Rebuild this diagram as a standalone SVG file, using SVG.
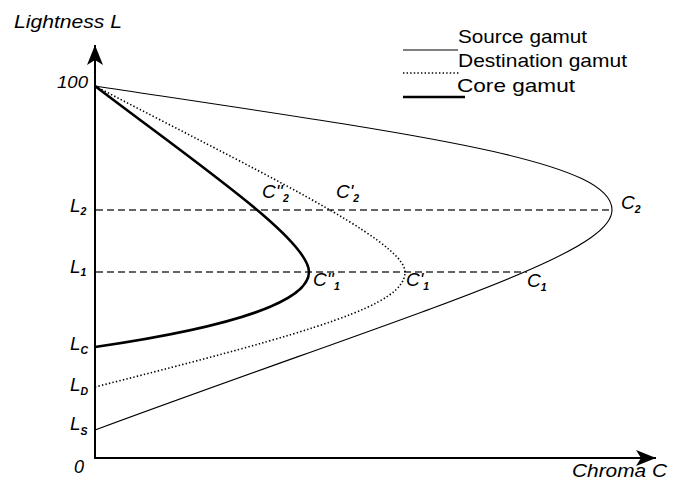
<svg xmlns="http://www.w3.org/2000/svg" width="679" height="482" viewBox="0 0 679 482">
<style>
text{font-family:"Liberation Sans",Arial,sans-serif;fill:#000}
.it{font-style:italic}
.lbl{font-size:19px;font-style:italic}
.sub{font-size:10.5px;font-weight:bold;font-style:italic}
.ax{stroke:#000;stroke-width:2;fill:none}
.src{stroke:#000;stroke-width:1.1;fill:none}
.dst{stroke:#000;stroke-width:1.6;fill:none;stroke-dasharray:1.4 2.2}
.core{stroke:#000;stroke-width:2.6;fill:none}
.dash{stroke:#333;stroke-width:1.3;fill:none;stroke-dasharray:7 4}
</style>
<defs>
<marker id="arr" viewBox="0 0 20 16" refX="20" refY="8" markerWidth="20" markerHeight="16" markerUnits="userSpaceOnUse" orient="auto">
<path d="M0,0 L20,8 L0,16 L5,8 Z" fill="#000"/>
</marker>
</defs>
<g id="axes">
<line class="ax" x1="95" y1="458" x2="95" y2="45" marker-end="url(#arr)"/>
<line class="ax" x1="94" y1="458" x2="656" y2="458" marker-end="url(#arr)"/>
</g>
<g id="guides">
<line class="dash" x1="96" y1="210" x2="612" y2="210"/>
<line class="dash" x1="96" y1="272" x2="527" y2="272"/>
</g>
<g id="source-gamut">
<path class="src" d="M95,86 C420,135 612,160 612,210 C612,255 420,310 95,430"/>
</g>
<g id="destination-gamut">
<path class="dst" d="M95,86 C247,166 405,240 405,272 C405,305 320,330 95,387"/>
</g>
<g id="core-gamut">
<path class="core" d="M95,86 C200,166 309,240 309,272 C309,290 280,320 95,347"/>
</g>
<g id="axis-labels">
<text class="it" x="14" y="28" font-size="19" textLength="108" lengthAdjust="spacingAndGlyphs">Lightness L</text>
<text class="it" x="572" y="477" font-size="19" textLength="95" lengthAdjust="spacingAndGlyphs">Chroma C</text>
<text class="it" x="57" y="88" font-size="17" textLength="31" lengthAdjust="spacingAndGlyphs">100</text>
<text class="it" x="74" y="473" font-size="18">0</text>
<text class="lbl" x="70" y="212">L<tspan class="sub" dy="3">2</tspan></text>
<text class="lbl" x="70" y="273">L<tspan class="sub" dy="3">1</tspan></text>
<text class="lbl" x="70" y="350">L<tspan class="sub" dy="4">C</tspan></text>
<text class="lbl" x="70" y="391">L<tspan class="sub" dy="4">D</tspan></text>
<text class="lbl" x="70" y="430">L<tspan class="sub" dy="5">S</tspan></text>
</g>
<g id="point-labels">
<text class="lbl" x="621" y="209">C<tspan class="sub" dy="4">2</tspan></text>
<text class="lbl" x="527" y="287">C<tspan class="sub" dy="4">1</tspan></text>
<text class="lbl" x="262" y="198">C''<tspan class="sub" dy="4">2</tspan></text>
<text class="lbl" x="336" y="198">C'<tspan class="sub" dy="4">2</tspan></text>
<text class="lbl" x="313" y="286">C''<tspan class="sub" dy="4">1</tspan></text>
<text class="lbl" x="406" y="286">C'<tspan class="sub" dy="4">1</tspan></text>
</g>
<g id="legend">
<line class="src" x1="403" y1="50" x2="458" y2="50"/>
<line class="dst" x1="403" y1="73" x2="460" y2="73"/>
<line class="core" x1="403" y1="97" x2="465" y2="97"/>
<text x="458" y="43" font-size="19" textLength="129" lengthAdjust="spacingAndGlyphs">Source gamut</text>
<text x="458" y="67" font-size="19" textLength="169" lengthAdjust="spacingAndGlyphs">Destination gamut</text>
<text x="457" y="92" font-size="19" textLength="118" lengthAdjust="spacingAndGlyphs">Core gamut</text>
</g>
</svg>
